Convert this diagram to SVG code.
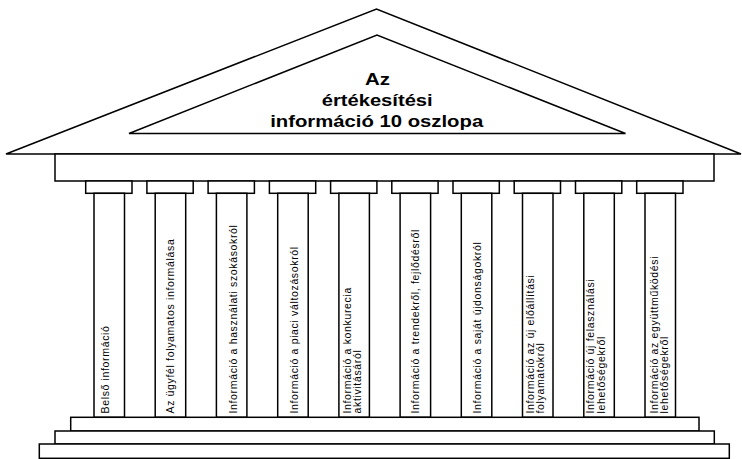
<svg xmlns="http://www.w3.org/2000/svg" width="742" height="459" viewBox="0 0 742 459">
  <style>
    .ln { fill: #ffffff; stroke: #000000; stroke-width: 1.5; stroke-linejoin: miter; }
    .title { font-family: "Liberation Sans", Arial, sans-serif; font-weight: bold; font-size: 16.5px; fill: #000000; text-anchor: middle; }
    .lbl { font-family: "Liberation Sans", Arial, sans-serif; font-size: 10.5px; letter-spacing: 0.65px; fill: #000000; }
  </style>
  <rect x="0" y="0" width="742" height="459" fill="#ffffff"/>

  <!-- pediment -->
  <g id="roof">
    <polygon class="ln" points="6,154 376.5,9 741,154"/>
    <polygon class="ln" points="129,133.5 377,35 625.5,133.5"/>
    <text class="title" x="377.5" y="85" textLength="25" lengthAdjust="spacingAndGlyphs">Az</text>
    <text class="title" x="377.2" y="106" textLength="111" lengthAdjust="spacingAndGlyphs">értékesítési</text>
    <text class="title" x="376.7" y="127" textLength="213" lengthAdjust="spacingAndGlyphs">információ 10 oszlopa</text>
  </g>

  <!-- entablature -->
  <g id="entablature">
    <rect class="ln" x="55" y="154" width="659" height="27"/>
  </g>

  <!-- columns: capital, shaft, vertical label -->
  <g id="col1">
    <rect class="ln" x="85.7" y="181" width="46.3" height="12.3"/>
    <rect class="ln" x="94" y="193.3" width="30.5" height="224"/>
    <text class="lbl" transform="translate(108.5,413.5) rotate(-90)">Belső információ</text>
  </g>
  <g id="col2">
    <rect class="ln" x="146.9" y="181" width="46.3" height="12.3"/>
    <rect class="ln" x="155.2" y="193.3" width="30.5" height="224"/>
    <text class="lbl" transform="translate(173.5,413.5) rotate(-90)">Az ügyfél folyamatos informálása</text>
  </g>
  <g id="col3">
    <rect class="ln" x="208.1" y="181" width="46.3" height="12.3"/>
    <rect class="ln" x="216.4" y="193.3" width="30.5" height="224"/>
    <text class="lbl" transform="translate(236.5,413.5) rotate(-90)">Információ a használati szokásokról</text>
  </g>
  <g id="col4">
    <rect class="ln" x="269.4" y="181" width="46.3" height="12.3"/>
    <rect class="ln" x="277.7" y="193.3" width="30.5" height="224"/>
    <text class="lbl" transform="translate(297.5,413.5) rotate(-90)">Információ a piaci változásokról</text>
  </g>
  <g id="col5">
    <rect class="ln" x="330.6" y="181" width="46.3" height="12.3"/>
    <rect class="ln" x="338.9" y="193.3" width="30.5" height="224"/>
    <text class="lbl" transform="translate(350.5,413.5) rotate(-90)">Információ a konkurecia</text>
    <text class="lbl" transform="translate(361,413.5) rotate(-90)">aktivitásáról</text>
  </g>
  <g id="col6">
    <rect class="ln" x="391.8" y="181" width="46.3" height="12.3"/>
    <rect class="ln" x="400.1" y="193.3" width="30.5" height="224"/>
    <text class="lbl" transform="translate(419,413.5) rotate(-90)">Információ a trendekről, fejlődésről</text>
  </g>
  <g id="col7">
    <rect class="ln" x="453" y="181" width="46.3" height="12.3"/>
    <rect class="ln" x="461.3" y="193.3" width="30.5" height="224"/>
    <text class="lbl" transform="translate(480.5,413.5) rotate(-90)">Információ a saját újdonságokról</text>
  </g>
  <g id="col8">
    <rect class="ln" x="514.2" y="181" width="46.3" height="12.3"/>
    <rect class="ln" x="522.5" y="193.3" width="30.5" height="224"/>
    <text class="lbl" transform="translate(533.8,413.5) rotate(-90)">Információ az új előállítási</text>
    <text class="lbl" transform="translate(544,413.5) rotate(-90)">folyamatokról</text>
  </g>
  <g id="col9">
    <rect class="ln" x="575.5" y="181" width="46.3" height="12.3"/>
    <rect class="ln" x="583.8" y="193.3" width="30.5" height="224"/>
    <text class="lbl" transform="translate(594.3,413.5) rotate(-90)">Információ új felasználási</text>
    <text class="lbl" transform="translate(604.5,413.5) rotate(-90)">lehetőségekről</text>
  </g>
  <g id="col10">
    <rect class="ln" x="636.7" y="181" width="46.3" height="12.3"/>
    <rect class="ln" x="645" y="193.3" width="30.5" height="224"/>
    <text class="lbl" transform="translate(658,413.5) rotate(-90)">Információ az együttműködési</text>
    <text class="lbl" transform="translate(668,413.5) rotate(-90)">lehetőségekről</text>
  </g>

  <!-- stepped base -->
  <g id="base">
    <rect class="ln" x="70.7" y="417.3" width="628.3" height="13.7"/>
    <rect class="ln" x="55" y="431" width="659.3" height="13"/>
    <rect class="ln" x="39.3" y="444" width="690" height="14.3"/>
  </g>

  <!-- no connectors in this drawing -->
  <g id="connectors"/>
</svg>
